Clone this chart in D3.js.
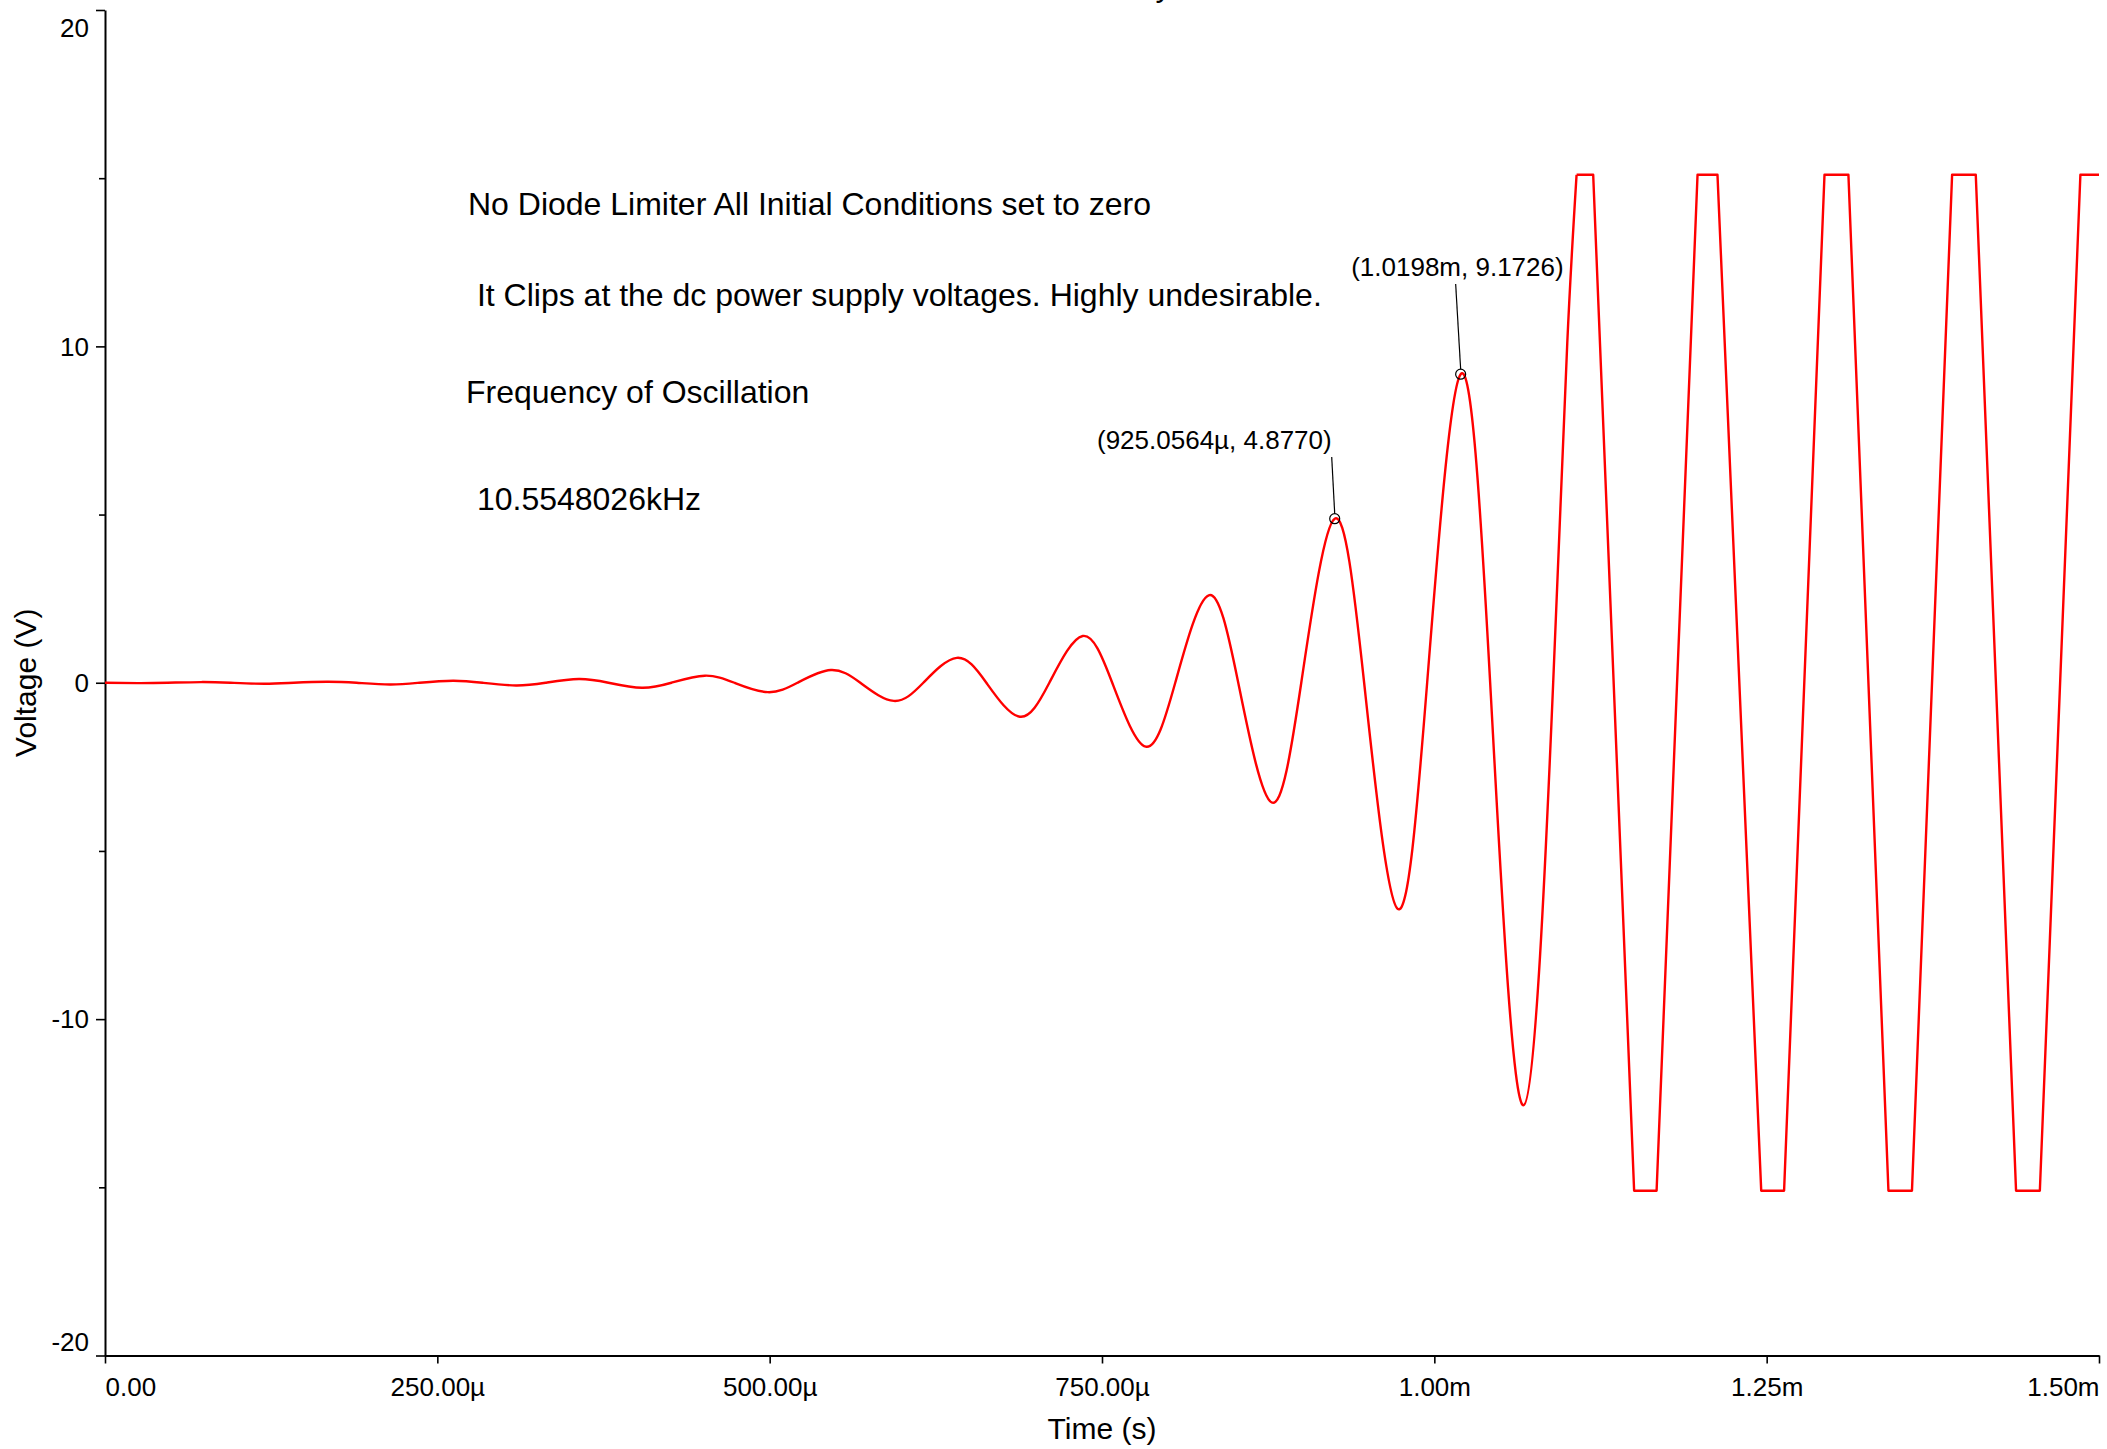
<!DOCTYPE html>
<html>
<head>
<meta charset="utf-8">
<script src="https://cdn.jsdelivr.net/npm/d3@7"></script>
<style>
  html, body { margin: 0; padding: 0; background: #fff; }
  svg { display: block; }
  text { font-family: "Liberation Sans", Arial, Helvetica, sans-serif; fill: #000; }
</style>
</head>
<body>
<svg id="chart" width="2107" height="1449"></svg>
<script>
// Oscillator output, build-up phase (time in microseconds, output in volts)
const growthTimeUs = [0, 24.9, 47.1, 72.3, 94.5, 119.7, 141.9, 167.0, 189.2, 214.4,
  236.6, 261.8, 284.0, 309.2, 331.4, 356.5, 378.7, 403.9, 426.1, 451.3,
  473.5, 498.7, 520.9, 546.0, 568.2, 593.4, 615.6, 640.8, 663.0, 688.2,
  710.4, 735.5, 757.7, 782.9, 805.1, 830.3, 852.5, 877.7, 899.9, 925.0564,
  947.2, 972.4, 994.6, 1019.8, 1042.0, 1067.2, 1089.4, 1100.0, 1107.0];
const growthVolts = [0, -0.01, 0, 0.02, 0, -0.03, 0, 0.03, 0, -0.05,
  0, 0.06, 0, -0.08, 0, 0.11, 0, -0.15, 0, 0.21,
  0, -0.28, 0, 0.38, 0, -0.54, 0, 0.74, 0, -1.01,
  0, 1.39, 0, -1.90, 0, 2.60, 0, -3.56, 0, 4.8770,
  0, -6.72, 0, 9.1726, 0, -12.56, 0, 10.1, 15.1];

// Output once it saturates at the supply rails
const clipTimeUs = [1107.0, 1119.5, 1150.3, 1167.2, 1198.0, 1213.0, 1245.9, 1263.1,
  1293.5, 1311.5, 1341.6, 1359.3, 1389.5, 1407.3, 1437.6, 1455.5, 1486.0, 1500.0];
const clipVolts = [15.1, 15.1, -15.1, -15.1, 15.1, 15.1, -15.1, -15.1,
  15.1, 15.1, -15.1, -15.1, 15.1, 15.1, -15.1, -15.1, 15.1, 15.1];

// Cursor readouts
const markerTimeUs = [925.0564, 1019.8];
const markerVolts = [4.8770, 9.1726];
const markerLabels = ["(925.0564\u00b5, 4.8770)", "(1.0198m, 9.1726)"];

// Axis ticks
const xTickValues = [0, 250, 500, 750, 1000, 1250, 1500];
const xTickLabels = ["0.00", "250.00\u00b5", "500.00\u00b5", "750.00\u00b5", "1.00m", "1.25m", "1.50m"];
const yTickValues = [-20, -10, 0, 10, 20];
const yTickLabels = ["-20", "-10", "0", "10", "20"];
const yMinorTicks = [-15, -5, 5, 15];

// Notes placed on the plot
const notes = [
  "No Diode Limiter All Initial Conditions set to zero",
  " It Clips at the dc power supply voltages. Highly undesirable.",
  "Frequency of Oscillation",
  " 10.5548026kHz"
];
const titleText = "Transient Analysis";

(function draw() {
  const svg = d3.select("#chart");
  const plotLeft = 105, plotRight = 2099, plotTop = 10, plotBottom = 1355.5;

  const x = d3.scaleLinear().domain([0, 1500]).range([plotLeft, plotRight]);
  const y = d3.scaleLinear().domain([-20, 20]).range([plotBottom, plotTop]);

  // title (sits mostly above the visible area)
  svg.append("text")
    .attr("x", 952).attr("y", -4)
    .attr("font-size", 32)
    .text(titleText);

  // y axis: major + minor ticks
  const yAxis = svg.append("g")
    .attr("transform", `translate(${plotLeft},0)`)
    .call(d3.axisLeft(y).tickValues(yTickValues)
      .tickFormat((d, i) => yTickLabels[i])
      .tickSize(9).tickSizeOuter(0).tickPadding(7));
  yAxis.select(".domain").attr("stroke", "#000").attr("stroke-width", 2);
  yAxis.selectAll(".tick line").attr("stroke", "#000").attr("stroke-width", 1.6);
  yAxis.selectAll(".tick text")
    .attr("font-size", 26)
    .attr("font-family", "\"Liberation Sans\", Arial, sans-serif")
    .attr("dy", d => d === 20 ? "1.0em" : d === -20 ? "-0.2em" : "0.34em");

  svg.append("g")
    .attr("transform", `translate(${plotLeft},0)`)
    .call(d3.axisLeft(y).tickValues(yMinorTicks).tickFormat("").tickSize(6).tickSizeOuter(0))
    .call(g => g.select(".domain").remove())
    .call(g => g.selectAll(".tick line").attr("stroke", "#000").attr("stroke-width", 1.6));

  // x axis
  const xAxis = svg.append("g")
    .attr("transform", `translate(0,${plotBottom})`)
    .call(d3.axisBottom(x).tickValues(xTickValues)
      .tickFormat((d, i) => xTickLabels[i])
      .tickSize(8).tickSizeOuter(0).tickPadding(14));
  xAxis.select(".domain").attr("stroke", "#000").attr("stroke-width", 2);
  xAxis.selectAll(".tick line").attr("stroke", "#000").attr("stroke-width", 1.6);
  xAxis.selectAll(".tick text")
    .attr("font-size", 26)
    .attr("font-family", "\"Liberation Sans\", Arial, sans-serif")
    .attr("text-anchor", d => d === 0 ? "start" : d === 1500 ? "end" : "middle");

  // axis titles
  svg.append("text")
    .attr("x", (plotLeft + plotRight) / 2).attr("y", 1439)
    .attr("text-anchor", "middle").attr("font-size", 30)
    .text("Time (s)");
  svg.append("text")
    .attr("transform", `translate(36,${y(0)}) rotate(-90)`)
    .attr("text-anchor", "middle").attr("font-size", 30)
    .text("Voltage (V)");

  // waveform
  const line = d3.line().x(d => x(d[0])).y(d => y(d[1]));
  const growth = growthTimeUs.map((t, i) => [t, growthVolts[i]]);
  const clipped = clipTimeUs.map((t, i) => [t, clipVolts[i]]);

  svg.append("path")
    .datum(growth)
    .attr("fill", "none").attr("stroke", "#ff0000").attr("stroke-width", 2.4)
    .attr("stroke-linejoin", "round")
    .attr("d", line.curve(d3.curveNatural));
  svg.append("path")
    .datum(clipped)
    .attr("fill", "none").attr("stroke", "#ff0000").attr("stroke-width", 2.4)
    .attr("stroke-linejoin", "round")
    .attr("d", line.curve(d3.curveLinear));

  // notes
  const noteX = [468, 468, 466, 468];
  const noteY = [215, 306, 403, 510];
  notes.forEach((s, i) => {
    svg.append("text")
      .attr("x", noteX[i]).attr("y", noteY[i])
      .attr("font-size", 32)
      .style("white-space", "pre")
      .text(s);
  });

  // cursor markers with leader lines and readouts
  const labelDx = [-3, 103];     // right edge of readout relative to marker
  const labelBase = [449, 276];  // readout baseline
  const leadDx = [-3, -5];       // leader start relative to marker x
  const r = 5;
  markerTimeUs.forEach((t, i) => {
    const mx = x(t), my = y(markerVolts[i]);
    svg.append("line")
      .attr("x1", mx + leadDx[i]).attr("y1", labelBase[i] + 8)
      .attr("x2", mx).attr("y2", my - r)
      .attr("stroke", "#000").attr("stroke-width", 1.2);
    svg.append("circle")
      .attr("cx", mx).attr("cy", my).attr("r", r)
      .attr("fill", "none").attr("stroke", "#000").attr("stroke-width", 1.2);
    svg.append("text")
      .attr("x", mx + labelDx[i]).attr("y", labelBase[i])
      .attr("text-anchor", "end").attr("font-size", 26)
      .text(markerLabels[i]);
  });
})();
</script>
</body>
</html>
